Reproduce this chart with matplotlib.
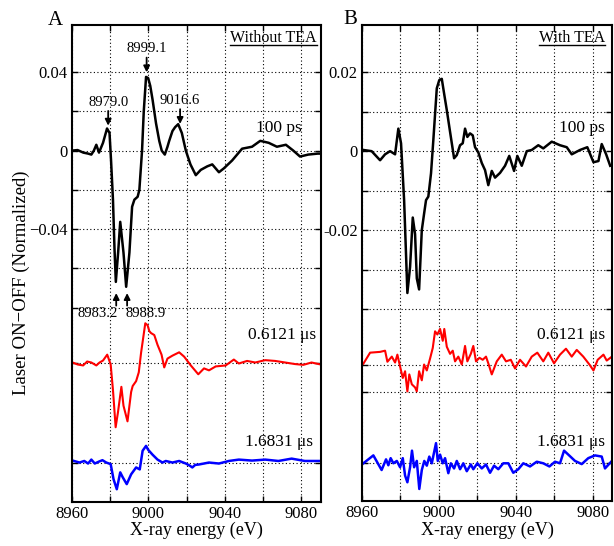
import matplotlib.pyplot as plt
import numpy as np

plt.rcParams['font.family'] = ['Liberation Serif', 'DejaVu Serif']

# ---- panel A (without TEA) ----
a_100ps_e = [8960.0, 8963.0, 8966.0, 8968.5, 8970.2, 8971.5, 8972.8, 8974.2, 8976.3, 8978.4,
             8979.7, 8980.5, 8981.5, 8982.3, 8983.0, 8984.2, 8985.3, 8987.0, 8988.4, 8990.1,
             8991.5, 8992.7, 8994.4, 8995.3, 8996.7, 8997.6, 8998.8, 8999.9, 9001.0, 9002.2,
             9004.0, 9005.7, 9007.0, 9008.6, 9010.0, 9010.9, 9012.6, 9014.0, 9015.6, 9017.5,
             9019.6, 9022.0, 9024.8, 9027.4, 9030.8, 9033.4, 9036.9, 9039.5, 9043.8, 9049.0,
             9054.2, 9058.5, 9062.9, 9067.2, 9071.9, 9075.8, 9079.3, 9083.6, 9088.5, 9090.0]
a_100ps_y = [0.0, 0.0003, -0.001, -0.0015, -0.002, 0.0, 0.003, -0.001, 0.004, 0.0113,
             0.009, -0.005, -0.025, -0.05, -0.0669, -0.052, -0.0363, -0.052, -0.0694, -0.052,
             -0.0286, -0.025, -0.0235, -0.02, 0.0, 0.02, 0.0376, 0.037, 0.033, 0.026,
             0.014, 0.005, 0.0, -0.002, 0.002, 0.005, 0.010, 0.012, 0.0135, 0.009,
             0.0, -0.007, -0.0125, -0.0098, -0.008, -0.007, -0.011, -0.009, -0.005, 0.001,
             0.002, 0.005, 0.004, 0.002, 0.003, 0.0, -0.003, -0.002, -0.0015, -0.0015]

a_0612_e = [8960.4, 8963.0, 8965.9, 8968.0, 8970.2, 8972.8, 8974.5, 8976.3, 8978.5, 8980.3,
            8981.5, 8982.9, 8984.1, 8985.9, 8987.0, 8989.1, 8991.0, 8991.8, 8993.6, 8995.0,
            8996.2, 8998.4, 8999.6, 9000.5, 9001.4, 9003.1, 9004.8, 9006.9, 9008.3, 9010.0,
            9012.6, 9016.1, 9018.7, 9022.2, 9026.1, 9029.1, 9031.7, 9035.2, 9040.4, 9044.7,
            9047.3, 9051.6, 9055.9, 9061.1, 9066.3, 9071.5, 9076.7, 9081.0, 9085.3, 9090.0]
a_0612_y = [0.0, -0.001, -0.0015, 0.0005, 0.0, -0.0015, 0.0, 0.001, 0.004, -0.001,
            -0.014, -0.033, -0.0255, -0.0124, -0.022, -0.030, -0.015, -0.012, -0.0095, -0.005,
            0.005, 0.020, 0.019, 0.016, 0.015, 0.014, 0.009, 0.004, -0.0025, 0.002,
            0.0035, 0.0052, 0.003, -0.0015, -0.006, -0.003, -0.004, -0.002, -0.0015, 0.0015,
            -0.0005, 0.0008, 0.0, 0.0012, 0.0008, 0.0, -0.0008, -0.0012, 0.0, -0.001]

a_1683_e = [8960.4, 8964.0, 8966.5, 8968.5, 8970.2, 8972.0, 8974.2, 8976.0, 8978.0, 8980.3,
            8981.8, 8983.5, 8985.3, 8986.6, 8988.7, 8991.0, 8993.6, 8995.5, 8997.0, 8998.8,
            8999.9, 9002.2, 9004.8, 9007.4, 9009.1, 9012.6, 9016.1, 9019.6, 9021.5, 9023.0,
            9024.5, 9026.4, 9031.7, 9036.9, 9042.1, 9047.3, 9054.2, 9061.1, 9068.0, 9074.9,
            9081.8, 9090.0]
a_1683_y = [0.001, 0.0, 0.0008, -0.0005, 0.0015, -0.0005, 0.0005, 0.0012, 0.0, -0.0008,
            -0.0085, -0.0136, -0.005, -0.0075, -0.011, -0.006, -0.0025, -0.0035, 0.006, 0.0085,
            0.0065, 0.004, 0.0015, 0.0, 0.0008, 0.0, 0.0008, -0.0005, -0.0015, -0.0025,
            -0.0012, -0.001, 0.0, -0.0005, 0.0008, 0.0015, 0.001, 0.0015, 0.0008, 0.002,
            0.0008, 0.0008]

# ---- panel B (with TEA) ----
b_100ps_e = [8960.7, 8965.0, 8969.4, 8972.0, 8974.6, 8977.2, 8978.9, 8980.3, 8981.9, 8983.6,
             8985.0, 8986.4, 8987.6, 8988.5, 8989.7, 8991.1, 8992.3, 8993.3, 8994.5, 8995.9,
             8997.1, 8998.9, 9000.2, 9001.5, 9002.7, 9004.1, 9005.8, 9007.9, 9009.3, 9011.0,
             9012.4, 9013.6, 9014.8, 9016.2, 9017.6, 9018.8, 9020.5, 9022.3, 9024.0, 9025.7,
             9027.5, 9029.2, 9031.8, 9034.4, 9036.6, 9039.1, 9040.8, 9043.1, 9045.7, 9048.3,
             9051.7, 9054.3, 9058.7, 9063.0, 9066.5, 9069.1, 9073.4, 9077.2, 9080.4, 9083.0,
             9084.7, 9087.0, 9089.1]
b_100ps_y = [0.0003, 0.0, -0.0023, -0.0008, 0.0, -0.0008, 0.0057, 0.002, -0.0124, -0.0359,
             -0.0293, -0.0168, -0.021, -0.0322, -0.035, -0.020, -0.0158, -0.0124, -0.0115, -0.0056,
             0.0028, 0.0159, 0.018, 0.0183, 0.0146, 0.0104, 0.0049, -0.0018, -0.001, 0.0015,
             0.002, 0.0057, 0.0036, 0.0045, 0.004, 0.001, -0.0003, -0.003, -0.0048, -0.0086,
             -0.005, -0.0067, -0.0055, -0.0037, -0.0012, -0.005, -0.0012, -0.0037, 0.0, 0.0003,
             0.0015, 0.0007, 0.0024, 0.0015, 0.001, -0.0008, 0.0003, 0.001, -0.0028, -0.0025,
             0.0018, -0.0008, -0.0037]

b_0612_e = [8960.7, 8964.2, 8969.4, 8972.0, 8973.2, 8975.5, 8977.2, 8978.4, 8979.8, 8981.2,
            8982.4, 8983.6, 8984.6, 8985.9, 8987.6, 8988.5, 8989.7, 8991.1, 8992.3, 8993.7,
            8995.4, 8996.8, 8998.0, 8999.2, 9000.6, 9002.0, 9002.8, 9004.1, 9005.8, 9007.2,
            9008.4, 9010.1, 9011.9, 9013.6, 9014.8, 9016.6, 9017.9, 9019.3, 9021.1, 9022.8,
            9024.5, 9025.7, 9027.5, 9030.1, 9032.7, 9034.9, 9037.4, 9039.6, 9042.2, 9045.3,
            9048.3, 9051.2, 9054.3, 9056.9, 9059.9, 9063.0, 9066.1, 9069.1, 9071.7, 9075.1,
            9078.3, 9080.4, 9082.6, 9085.6, 9087.3, 9090.0]
b_0612_y = [0.0002, 0.003, 0.0032, 0.0035, 0.0007, 0.002, 0.0005, 0.0025, -0.0005, -0.0034,
            -0.0017, -0.0068, -0.0025, -0.005, -0.0058, -0.0068, -0.0017, -0.004, 0.0, -0.0015,
            0.0015, 0.0042, 0.0084, 0.0076, 0.009, 0.006, 0.009, 0.0045, 0.0027, 0.0035,
            0.0008, 0.002, 0.0, 0.0047, 0.0008, 0.0027, 0.0047, 0.0008, 0.0017, 0.0012,
            0.002, 0.0003, -0.0025, 0.0008, 0.0025, 0.0008, 0.0012, -0.001, 0.0012, -0.0005,
            0.002, 0.003, 0.0008, 0.003, 0.0003, 0.0025, 0.004, 0.002, 0.0037, 0.002,
            0.0, -0.0015, 0.0012, 0.0025, 0.001, 0.002]

b_1683_e = [8960.7, 8963.3, 8965.9, 8970.2, 8972.5, 8973.7, 8974.9, 8976.3, 8978.1, 8979.8,
            8981.2, 8982.4, 8983.6, 8985.0, 8986.0, 8987.1, 8988.5, 8989.8, 8991.1, 8992.4,
            8993.7, 8995.0, 8996.3, 8997.5, 8998.5, 8999.4, 9000.6, 9002.0, 9003.2, 9004.9,
            9006.2, 9007.9, 9009.3, 9011.0, 9012.7, 9014.5, 9016.6, 9017.9, 9020.0, 9022.3,
            9024.5, 9026.6, 9028.7, 9030.9, 9033.5, 9036.1, 9038.7, 9041.3, 9043.9, 9047.4,
            9050.9, 9054.3, 9057.5, 9060.4, 9063.0, 9065.1, 9067.3, 9070.8, 9074.3, 9077.7,
            9081.2, 9084.7, 9086.4, 9090.0]
b_1683_y = [0.0, 0.001, 0.002, -0.0017, 0.001, -0.0005, 0.0013, 0.0, 0.0006, -0.001,
            0.0013, -0.0031, -0.0048, -0.001, 0.0032, -0.001, 0.0006, -0.0065, -0.0017, 0.0006,
            -0.0006, 0.0017, 0.0, 0.0028, 0.0051, 0.0006, 0.0022, 0.0, 0.0013, -0.0025,
            0.0, -0.0013, 0.0006, -0.0015, 0.0, -0.002, -0.0003, -0.0015, 0.0, -0.0013,
            -0.0003, -0.0024, -0.0006, -0.0015, 0.0, 0.0, -0.0024, -0.0015, 0.0, -0.0008,
            0.0004, 0.0, -0.0008, 0.0004, 0.0, 0.0032, 0.0022, 0.0006, -0.0002, 0.0013,
            0.002, 0.0017, -0.0013, 0.0006]

peak_energies = [8979.0, 8983.2, 8988.9, 8999.1, 9016.6]
curve_labels = ['100 ps', '0.6121 \u03bcs', '1.6831 \u03bcs']

offsets_a = [0.0, -0.108, -0.159]
offsets_b = [0.0, -0.054, -0.079]

fig = plt.figure(figsize=(6.14, 5.46), dpi=100)
axA = fig.add_axes([0.117, 0.081, 0.405, 0.873])
axB = fig.add_axes([0.5896, 0.082, 0.407, 0.872])

colors = ['black', 'red', 'blue']
widths = [1.8, 1.5, 1.8]


def setup(ax, yticks, ylabels, ylim):
    ax.set_xlim(8960, 9090)
    ax.set_ylim(*ylim)
    ax.set_xticks(np.arange(8960, 9081, 20))
    ax.set_xticklabels(['8960', '', '9000', '', '9040', '', '9080'])
    ax.set_yticks(yticks)
    ax.set_yticklabels(ylabels)
    ax.tick_params(direction='in', top=True, right=True, length=4, width=1,
                   labelsize=12, pad=3)
    ax.grid(True, color='black', linestyle=(0, (1, 2.2)), linewidth=0.8)
    for s in ax.spines.values():
        s.set_linewidth(1.5)
    ax.set_xlabel('X-ray energy (eV)', fontsize=13, labelpad=0)


series_a = [(a_100ps_e, a_100ps_y), (a_0612_e, a_0612_y), (a_1683_e, a_1683_y)]
series_b = [(b_100ps_e, b_100ps_y), (b_0612_e, b_0612_y), (b_1683_e, b_1683_y)]

for (e, y), off, c, w in zip(series_a, offsets_a, colors, widths):
    axA.plot(e, np.array(y) + off, color=c, linewidth=w)
for (e, y), off, c, w in zip(series_b, offsets_b, colors, widths):
    axB.plot(e, np.array(y) + off, color=c, linewidth=w)

setup(axA, [0.04, 0.02, 0, -0.02, -0.04, -0.06, -0.08] + offsets_a[1:],
      ['0.04', '', '0', '', '\u22120.04', '', '', '', ''], (-0.179, 0.064))
setup(axB, [0.02, 0.01, 0, -0.01, -0.02, -0.03, -0.04, -0.061] + offsets_b[1:],
      ['0.02', '', '0', '', '-0.02', '', '', '', '', ''], (-0.0886, 0.0319))

# curve labels
label_x_a = [9080, 9087.5, 9086]
for lab, xa, ya in zip(curve_labels, label_x_a, [0.0113, -0.094, -0.1484]):
    axA.text(xa, ya, lab, ha='right', va='center', fontsize=12.5)
for lab, yb in zip(curve_labels, [0.0058, -0.0466, -0.0736]):
    axB.text(9086.5, yb, lab, ha='right', va='center', fontsize=12.5)

# peak arrows in panel A
arrow_kw = dict(arrowstyle='-|>', color='black', lw=1.3, mutation_scale=9,
                shrinkA=0, shrinkB=0)
for pe in peak_energies:
    yc = np.interp(pe, a_100ps_e, a_100ps_y)
    if yc > 0:
        tip = yc + 0.0025
        tail = tip + 0.0075
        axA.annotate('', xy=(pe, tip), xytext=(pe, tail), arrowprops=arrow_kw)
        axA.text(pe, tail + 0.0012, f'{pe:.1f}', ha='center', va='bottom', fontsize=10.5)
    else:
        tip = -0.0726
        tail = -0.079
        axA.annotate('', xy=(pe, tip), xytext=(pe, tail), arrowprops=arrow_kw)
        if pe < 8986:
            axA.text(pe + 0.6, -0.0829, f'{pe:.1f}', ha='right', va='center', fontsize=10.5)
        else:
            axA.text(pe - 0.8, -0.0829, f'{pe:.1f}', ha='left', va='center', fontsize=10.5)

# underlined condition labels
fig.canvas.draw()
for ax, lab, xr in [(axA, 'Without TEA', 0.984), (axB, 'With TEA', 0.974)]:
    t = ax.text(xr, 0.973, lab, transform=ax.transAxes, ha='right', va='center', fontsize=11.5)
    fig.canvas.draw()
    bb = t.get_window_extent().transformed(ax.transAxes.inverted())
    ax.plot([bb.x0, bb.x1], [bb.y0 + 0.002, bb.y0 + 0.002], color='black', linewidth=1,
            transform=ax.transAxes, clip_on=False)

fig.text(0.0896, 0.962, 'A', fontsize=15, ha='center', va='center')
fig.text(0.570, 0.965, 'B', fontsize=15, ha='center', va='center')
fig.text(0.034, 0.482, 'Laser ON\u2212OFF (Normalized)', rotation=90, fontsize=13.5,
         ha='center', va='center')

fig.savefig('out.png', dpi=100)
